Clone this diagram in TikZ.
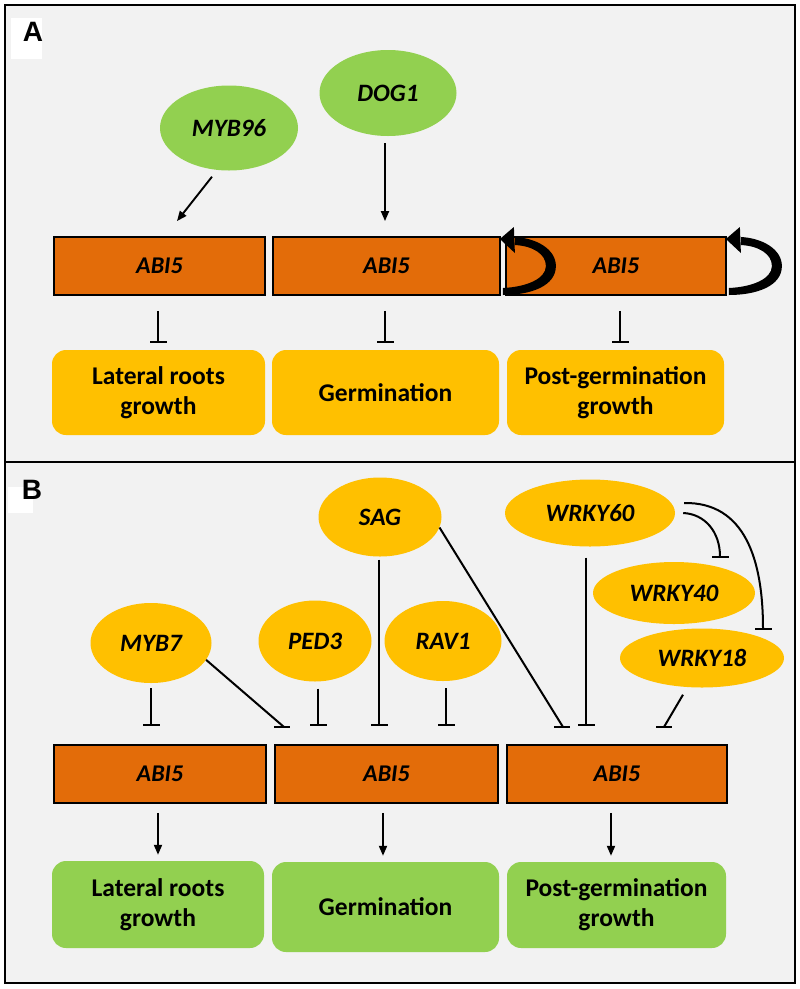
\documentclass[tikz,border=0pt]{standalone}
\usepackage{fontspec}
\setmainfont{Carlito}
\newfontfamily\labfont{Liberation Sans}
\usetikzlibrary{shapes.geometric,arrows.meta,calc}
\definecolor{bgg}{HTML}{F2F2F2}
\definecolor{abiorange}{HTML}{E36C09}
\definecolor{lgreen}{HTML}{92D050}
\definecolor{gold}{HTML}{FFC000}
\newcommand\selfloopshape[1]{%
  \begin{scope}[shift={(#1)}]
    \fill (2,29) .. controls (30,29) and (55,20) .. (55,0)
      .. controls (55,-17) and (35,-28) .. (14,-29)
      -- (14,-21) .. controls (32,-20) and (45,-12) .. (45,0)
      .. controls (45,13) and (25,21) .. (2,22) -- cycle;
    \fill (-1,-27) -- (13,-39) -- (14,-13) -- cycle;
  \end{scope}}
\begin{document}
\begin{tikzpicture}[x=1pt,y=-1pt,
  gene/.style={ellipse, inner sep=0pt, font=\fontsize{25}{28}\selectfont\bfseries\itshape},
  greengene/.style={gene, fill=lgreen},
  goldgene/.style={gene, fill=gold},
  abibox/.style={rectangle, draw=black, line width=1.8pt, fill=abiorange, inner sep=0pt,
    minimum height=58pt, font=\fontsize{24}{28}\selectfont\bfseries\itshape},
  proc/.style={rectangle, rounded corners=14pt, inner sep=0pt, align=center,
    font=\fontsize{25.5}{30}\selectfont\bfseries},
  procA/.style={proc, fill=gold},
  procB/.style={proc, fill=lgreen},
  act/.style={-{Triangle[length=10pt,width=8pt]}, line width=1.9pt},
  inh/.style={-{Bar[width=17pt,line width=2.1pt]}, line width=2pt},
  inhline/.style={line width=2pt},
  barline/.style={line width=2.1pt},
  panellab/.style={inner sep=0pt, font=\fontsize{28}{30}\selectfont\labfont\bfseries}]
\useasboundingbox (0,0) rectangle (800,989);
\fill[white] (0,0) rectangle (800,989);
\draw[line width=2.5pt, fill=bgg] (5,5) rectangle (795,462);
\draw[line width=2.5pt, fill=bgg] (5,462) rectangle (795,983);
\fill[white] (11,18) rectangle (42,59);
\node[panellab] (labA) at (33,32) {A};
\fill[white] (8,487) rectangle (33,513);
\node[panellab] (labB) at (32,490) {B};

% ---------------- Panel A ----------------
\node[greengene, minimum width=138pt, minimum height=85pt] (myb96) at (229,128) {MYB96};
\node[greengene, minimum width=137pt, minimum height=86pt] (dog1) at (388,93) {DOG1};

\node[abibox, minimum width=211pt] (abiA1) at (159.5,266) {ABI5};
\node[abibox, minimum width=227pt] (abiA2) at (386.5,266) {ABI5};
\node[abibox, minimum width=220pt] (abiA3) at (616,266) {ABI5};

\node[procA, minimum width=213pt, minimum height=85pt] (procA1) at (158.5,392.5) {Lateral roots\\growth};
\node[procA, minimum width=227pt, minimum height=85pt] (procA2) at (385.5,392.5) {Germination};
\node[procA, minimum width=217pt, minimum height=85pt] (procA3) at (615.5,392.5) {Post-germination\\growth};

\draw[act] ($(myb96.south)+(-17,6)$) -- ($(abiA1.north)+(17.5,-15)$);
\draw[act, shorten <=7pt, shorten >=15pt] ($(dog1.south)+(-3,0)$) -- ($(dog1.south |- abiA2.north)+(-3,0)$);

\selfloopshape{abiA2.east}
\selfloopshape{abiA3.east}

\draw[inh, shorten <=15pt, shorten >=7pt] ($(abiA1.south)+(-1.5,0)$) -- ($(abiA1.south |- procA1.north)+(-1.5,0)$);
\draw[inh, shorten <=15pt, shorten >=7pt] ($(abiA2.south)+(-1.5,0)$) -- ($(abiA2.south |- procA2.north)+(-1.5,0)$);
\draw[inh, shorten <=15pt, shorten >=7pt] ($(abiA3.south)+(4,0)$) -- ($(abiA3.south |- procA3.north)+(4,0)$);

% ---------------- Panel B ----------------
\node[goldgene, minimum width=123pt, minimum height=79pt] (sag) at (380,517) {SAG};
\node[goldgene, minimum width=170pt, minimum height=67pt] (wrky60) at (590,513) {WRKY60};
\node[goldgene, minimum width=162pt, minimum height=62pt] (wrky40) at (674,593) {WRKY40};
\node[goldgene, minimum width=164pt, minimum height=59pt] (wrky18) at (702,658) {WRKY18};
\node[goldgene, minimum width=121pt, minimum height=80pt] (myb7) at (151,643) {MYB7};
\node[goldgene, minimum width=113pt, minimum height=81pt] (ped3) at (315,641) {PED3};
\node[goldgene, minimum width=117pt, minimum height=80pt] (rav1) at (443,641) {RAV1};

\node[abibox, minimum width=212pt] (abiB1) at (160,774) {ABI5};
\node[abibox, minimum width=223pt] (abiB2) at (386.5,774) {ABI5};
\node[abibox, minimum width=220pt] (abiB3) at (617,774) {ABI5};

\node[procB, minimum width=212pt, minimum height=87pt] (procB1) at (158,904.5) {Lateral roots\\growth};
\node[procB, minimum width=227pt, minimum height=90pt] (procB2) at (385.5,907) {Germination};
\node[procB, minimum width=219pt, minimum height=86pt] (procB3) at (616.5,905) {Post-germination\\growth};

% inhibitions onto ABI5 (bars at y = 727)
\draw[inh, shorten <=5pt, shorten >=18pt] (myb7.south) -- (myb7.south |- abiB1.north);
\draw[inh, shorten <=7pt, shorten >=18pt] ($(ped3.south)+(3,0)$) -- ($(ped3.south |- abiB2.north)+(3,0)$);
\draw[inh, shorten <=3pt, shorten >=18pt] ($(sag.south)+(-1,0)$) -- ($(sag.south |- abiB2.north)+(-1,0)$);
\draw[inh, shorten <=7pt, shorten >=18pt] ($(rav1.south)+(3,0)$) -- ($(rav1.south |- abiB2.north)+(3,0)$);
\draw[inh, shorten <=11pt, shorten >=18pt] ($(wrky60.south)+(-4,0)$) -- ($(wrky60.south |- abiB3.north)+(-4,0)$);

\coordinate (b7) at (284,727);
\draw[inhline] (myb7.-17) -- (b7);
\draw[barline] ($(b7)+(-10,0)$) -- ($(b7)+(6,0)$);

\coordinate (bsag) at (563,727);
\draw[inhline] (sag.-10) -- (bsag);
\draw[barline] ($(bsag)+(-9,0)$) -- ($(bsag)+(7,0)$);

\coordinate (b18) at (664,727);
\draw[inhline] ($(wrky18.south)+(-19,7)$) -- (b18);
\draw[barline] ($(b18)+(-8,0)$) -- ($(b18)+(8,0)$);

% WRKY60 onto WRKY40 and WRKY18
\coordinate (w40t) at (720,558);
\coordinate (w18t) at (763,630);
\draw[inh] ($(wrky60.east)+(8,0)$) .. controls (705,514) and (720,532) .. (w40t);
\draw[inh] ($(wrky60.east)+(9,-10)$) .. controls (745,502) and (763,560) .. (w18t);

% activations ABI5 -> processes
\draw[act, shorten <=9pt, shorten >=6pt] ($(abiB1.south)+(-2,0)$) -- ($(abiB1.south |- procB1.north)+(-2,0)$);
\draw[act, shorten <=9pt, shorten >=6pt] ($(abiB2.south)+(-3.5,0)$) -- ($(abiB2.south |- procB2.north)+(-3.5,0)$);
\draw[act, shorten <=9pt, shorten >=6pt] ($(abiB3.south)+(-6,0)$) -- ($(abiB3.south |- procB3.north)+(-6,0)$);
\end{tikzpicture}
\end{document}
